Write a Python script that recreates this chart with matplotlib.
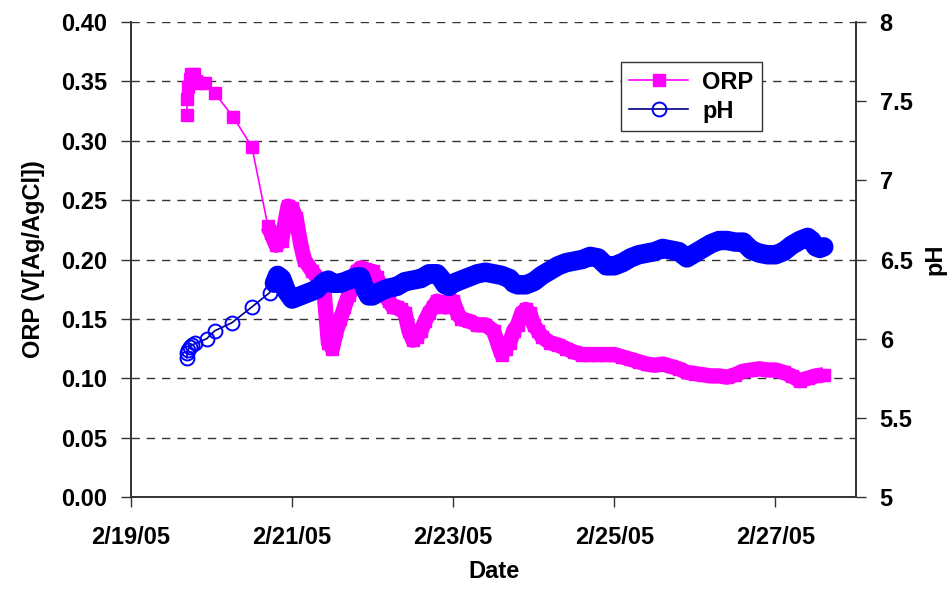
import datetime as dt

import matplotlib
matplotlib.use("Agg")
import matplotlib.pyplot as plt
from matplotlib.lines import Line2D
from matplotlib.ticker import FixedLocator, FuncFormatter

plt.rcParams.update({
    "font.family": ["Liberation Sans", "DejaVu Sans"], "font.weight": "bold",
    "font.size": 17, "axes.labelweight": "bold",
})

START = dt.datetime(2005, 2, 19)

# ORP: days since 2/19/05 00:00 and V vs Ag/AgCl
orp_days = [0.69, 0.70, 0.71, 0.73, 0.75, 0.78, 0.81, 0.85, 0.92, 1.04, 1.27, 1.50,
            1.70, 1.74, 1.80, 1.87, 1.95, 2.00, 2.05, 2.10, 2.15, 2.25, 2.35, 2.40,
            2.45, 2.50, 2.55, 2.60, 2.65, 2.70, 2.75, 2.80, 2.85, 2.90, 2.95, 3.00,
            3.05, 3.10, 3.15, 3.20, 3.25, 3.30, 3.35, 3.40, 3.45, 3.50, 3.55, 3.60,
            3.65, 3.70, 3.75, 3.80, 3.85, 3.90, 3.95, 4.00, 4.05, 4.10, 4.20, 4.30,
            4.40, 4.50, 4.55, 4.60, 4.65, 4.70, 4.75, 4.80, 4.85, 4.90, 4.95, 5.00,
            5.05, 5.10, 5.20, 5.30, 5.40, 5.50, 5.60, 5.70, 5.80, 5.90, 6.00, 6.10,
            6.20, 6.30, 6.40, 6.50, 6.60, 6.70, 6.80, 6.90, 7.00, 7.10, 7.20, 7.30,
            7.40, 7.50, 7.60, 7.70, 7.80, 7.90, 8.00, 8.10, 8.20, 8.30, 8.40, 8.50,
            8.60]
orp_vals = [0.322, 0.335, 0.345, 0.352, 0.356, 0.356, 0.350, 0.349, 0.349, 0.340, 0.320, 0.295,
            0.228, 0.222, 0.212, 0.216, 0.245, 0.243, 0.235, 0.215, 0.200, 0.190, 0.182, 0.170,
            0.130, 0.125, 0.140, 0.150, 0.160, 0.170, 0.175, 0.190, 0.193, 0.192, 0.190, 0.190,
            0.185, 0.178, 0.170, 0.165, 0.160, 0.160, 0.158, 0.155, 0.140, 0.132, 0.135, 0.140,
            0.148, 0.155, 0.160, 0.165, 0.162, 0.160, 0.165, 0.165, 0.155, 0.150, 0.148, 0.145,
            0.145, 0.140, 0.130, 0.120, 0.125, 0.130, 0.140, 0.145, 0.155, 0.158, 0.155, 0.145,
            0.140, 0.135, 0.130, 0.128, 0.125, 0.122, 0.120, 0.120, 0.120, 0.120, 0.120, 0.118,
            0.116, 0.114, 0.112, 0.111, 0.112, 0.110, 0.108, 0.105, 0.104, 0.103, 0.102, 0.102,
            0.101, 0.103, 0.106, 0.107, 0.108, 0.107, 0.107, 0.105, 0.102, 0.098, 0.100, 0.102,
            0.103]

# pH
ph_days = [0.69, 0.70, 0.71, 0.73, 0.76, 0.80, 0.94, 1.04, 1.25, 1.50, 1.72, 1.78,
           1.82, 1.87, 1.93, 2.00, 2.05, 2.10, 2.20, 2.30, 2.40, 2.45, 2.50, 2.60,
           2.70, 2.80, 2.85, 2.90, 2.95, 3.00, 3.10, 3.20, 3.30, 3.40, 3.50, 3.60,
           3.70, 3.80, 3.85, 3.90, 3.95, 4.00, 4.10, 4.20, 4.30, 4.40, 4.50, 4.60,
           4.70, 4.75, 4.80, 4.90, 5.00, 5.10, 5.20, 5.30, 5.40, 5.50, 5.60, 5.70,
           5.80, 5.90, 6.00, 6.10, 6.20, 6.30, 6.40, 6.50, 6.60, 6.70, 6.80, 6.90,
           7.00, 7.10, 7.20, 7.30, 7.40, 7.50, 7.60, 7.70, 7.80, 7.90, 8.00, 8.10,
           8.20, 8.30, 8.40, 8.45, 8.50, 8.55, 8.60]
ph_vals = [5.88, 5.91, 5.93, 5.95, 5.96, 5.97, 6.00, 6.05, 6.10, 6.20, 6.29, 6.35,
           6.40, 6.38, 6.30, 6.25, 6.26, 6.27, 6.29, 6.31, 6.36, 6.37, 6.35, 6.35,
           6.37, 6.39, 6.39, 6.32, 6.27, 6.27, 6.30, 6.32, 6.33, 6.36, 6.37, 6.38,
           6.41, 6.41, 6.38, 6.34, 6.33, 6.35, 6.37, 6.39, 6.41, 6.42, 6.41, 6.40,
           6.38, 6.35, 6.34, 6.34, 6.36, 6.40, 6.43, 6.46, 6.48, 6.49, 6.50, 6.52,
           6.51, 6.46, 6.46, 6.48, 6.51, 6.53, 6.54, 6.55, 6.57, 6.56, 6.55, 6.51,
           6.54, 6.57, 6.60, 6.62, 6.62, 6.61, 6.61, 6.56, 6.54, 6.53, 6.53, 6.55,
           6.59, 6.62, 6.64, 6.62, 6.58, 6.57, 6.58]

DENSE_ORP = 12  # index where logging becomes continuous
DENSE_PH = 11

MAG = "#ff00ff"
BLUE = "#0000ff"
NAVY = "#000080"

orp_t = [START + dt.timedelta(days=d) for d in orp_days]
ph_t = [START + dt.timedelta(days=d) for d in ph_days]

fig = plt.figure(figsize=(9.52, 5.9), dpi=100)
ax = fig.add_axes([0.1376, 0.1576, 0.7616, 0.8051])
ax2 = ax.twinx()

# ORP: thin connecting line, dense logging band, square markers
ax.plot(orp_t, orp_vals, c=MAG, lw=1.2, zorder=1)
ax.plot(orp_t[DENSE_ORP:], orp_vals[DENSE_ORP:], c=MAG, lw=11, solid_capstyle="butt", zorder=2)
ax.plot(orp_t, orp_vals, ls="none", marker="s", ms=8.5, mfc=MAG, mec=MAG, zorder=3)

# pH
ax2.plot(ph_t, ph_vals, c=NAVY, lw=1.2, zorder=1)
ax2.plot(ph_t[DENSE_PH:], ph_vals[DENSE_PH:], c=BLUE, lw=14, solid_capstyle="round",
         solid_joinstyle="round", zorder=2)
ax2.plot(ph_t, ph_vals, ls="none", marker="o", ms=10, mfc="none", mec=BLUE, mew=1.4, zorder=3)

ax.set_xlim(START, START + dt.timedelta(days=9))
ax.set_ylim(0, 0.40)
ax2.set_ylim(5, 8)

xt = [START + dt.timedelta(days=k) for k in (0, 2, 4, 6, 8)]
ax.xaxis.set_major_locator(FixedLocator(matplotlib.dates.date2num(xt)))
ax.xaxis.set_major_formatter(FuncFormatter(
    lambda v, p: (lambda d: f"{d.month}/{d.day}/{d:%y}")(matplotlib.dates.num2date(v))))
ax.set_yticks([i * 0.05 for i in range(9)])
ax.yaxis.set_major_formatter(FuncFormatter(lambda v, p: f"{v:.2f}"))
ax2.set_yticks([5, 5.5, 6, 6.5, 7, 7.5, 8])
ax2.yaxis.set_major_formatter(FuncFormatter(lambda v, p: f"{v:g}"))

ax.grid(axis="y", ls=(0, (6, 5)), c="#333333", lw=1.0)
ax.set_axisbelow(True)
for a in (ax, ax2):
    a.spines["top"].set_visible(False)
    for s in a.spines.values():
        s.set_color("#333333")
        s.set_linewidth(1.2)
ax.tick_params(axis="x", length=7, width=1, pad=14, color="#333333")
ax.tick_params(axis="y", length=7, width=1, pad=10, color="#333333")
ax2.tick_params(axis="y", length=7, width=1, pad=10, color="#333333")

ax.set_xlabel("Date", labelpad=8)
ax.set_ylabel("ORP (V[Ag/AgCl])", labelpad=12)
ax2.set_ylabel("pH", labelpad=8)

handles = [
    Line2D([], [], c=MAG, lw=1.2, marker="s", ms=8.5, mfc=MAG, mec=MAG),
    Line2D([], [], c=NAVY, lw=1.2, marker="o", ms=10, mfc="none", mec=BLUE, mew=1.4),
]
leg = ax2.legend(handles, ["ORP", "pH"], loc="upper right", bbox_to_anchor=(0.87, 0.915),
                 borderaxespad=0, fancybox=False, edgecolor="#333333", framealpha=1,
                 handlelength=2.5, handletextpad=0.6, borderpad=0.35, labelspacing=0.25,
                 fontsize=17)
leg.get_frame().set_linewidth(1.0)

fig.savefig("out.png", dpi=100, facecolor="white")
